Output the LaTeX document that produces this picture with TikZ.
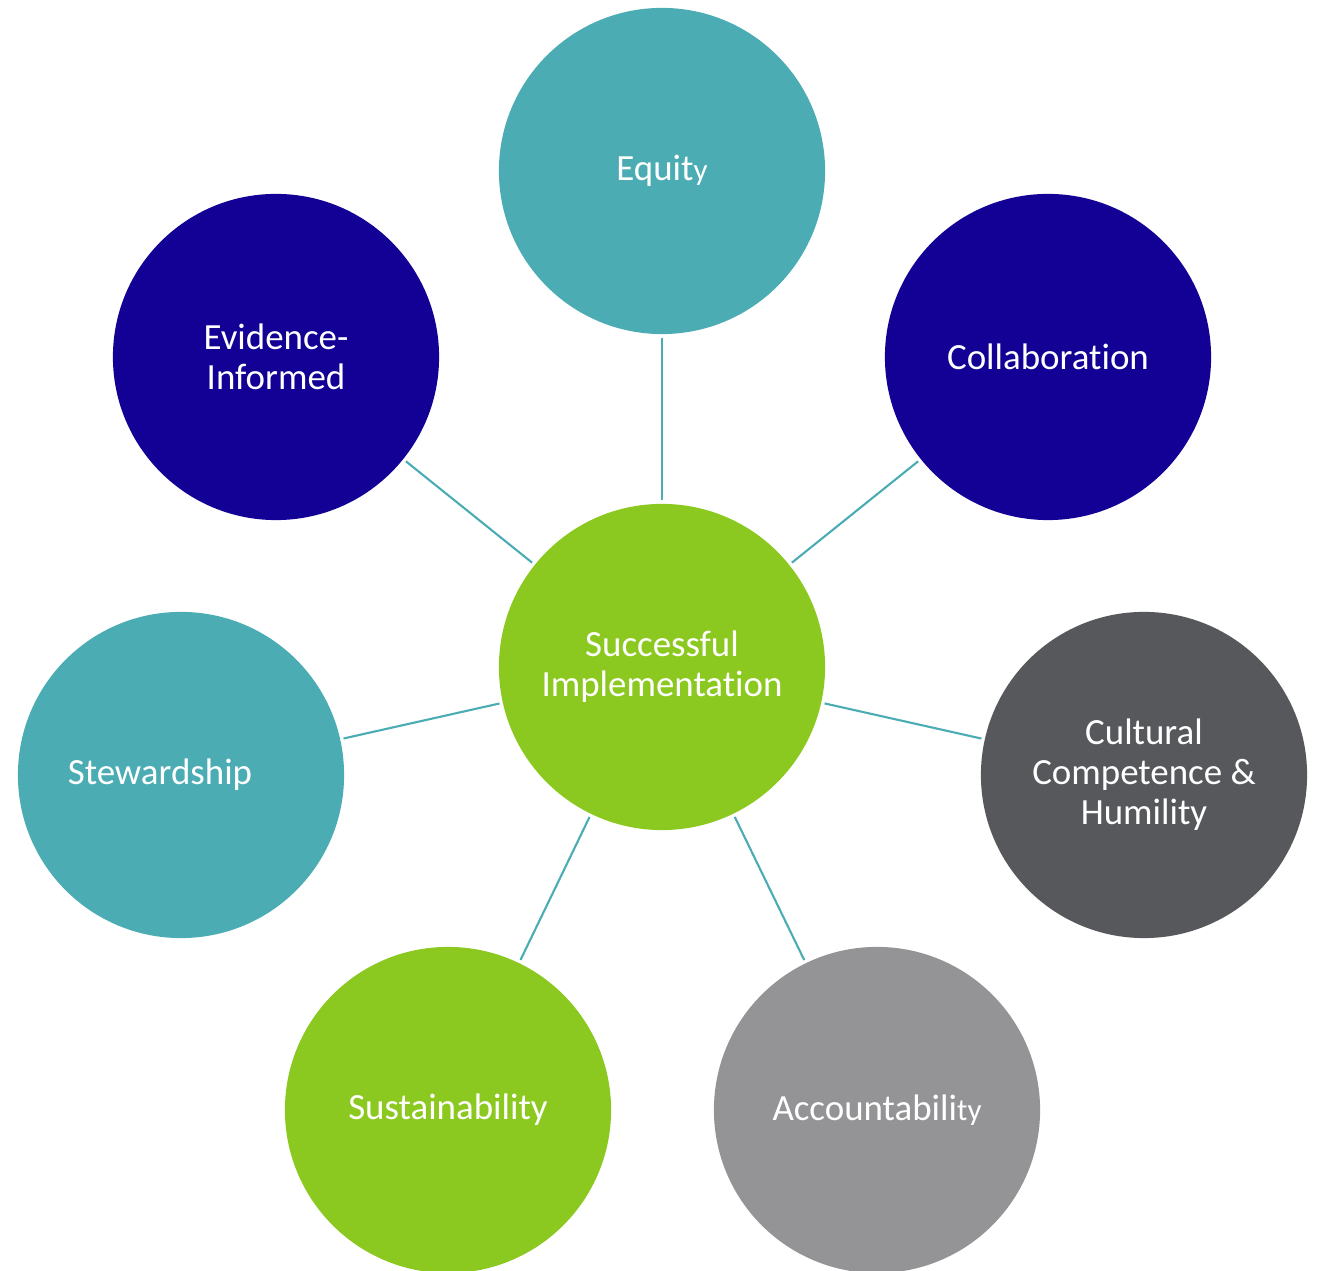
\documentclass[tikz,border=0pt]{standalone}
\usepackage{fontspec}
\setmainfont[Ligatures={CommonOff,ContextualOff,RequiredOff}]{Carlito}
\usetikzlibrary{positioning}

\definecolor{tealc}{RGB}{75,172,180}
\definecolor{navyc}{RGB}{19,0,148}
\definecolor{limec}{RGB}{140,201,32}
\definecolor{darkc}{RGB}{87,88,91}
\definecolor{greyc}{RGB}{148,148,150}

\newcommand{\smallend}[1]{{\fontsize{8.8}{9}\selectfont #1}}

\begin{document}
\begin{tikzpicture}
		[
		x=0.01cm, y=-0.01cm,
		font=\fontsize{10.5}{11.4}\selectfont
		]
		
		% Styles: circles and connectors
		\tikzstyle{big node}=[circle,minimum size=3.26cm,inner sep=0,outer sep=1pt,text=white,align=center];
		\tikzstyle{link}=[draw=tealc,line width=0.6pt];
		
		% Frame of the picture
		\useasboundingbox (0,0) rectangle (1321,1271);
		\clip (0,0) rectangle (1321,1271);
		
		% The centre
		\node(si)[big node,fill=limec] at (662,667) {Successful\\Implementation};
		
		% The values around it
		\node(eq)[big node,fill=tealc] at (662,171) {Equit\smallend{y}};
		\node(co)[big node,fill=navyc] at (1048,357) {Collaboration};
		\node(ev)[big node,fill=navyc] at (276,357) {Evidence-\\Informed};
		\node(cu)[big node,fill=darkc] at (1144,775) {Cultural\\Competence \&\\Humility};
		\node(st)[big node,fill=tealc] at (181,775) {Stewardship\hspace*{0.42cm}};
		\node(su)[big node,fill=limec] at (448,1110) {Sustainability};
		\node(ac)[big node,fill=greyc] at (877,1110) {Accountabili\smallend{ty}};
		
		% Connectors
		\foreach \n in {eq,co,ev,cu,st,su,ac} \draw[link](si)--(\n);
		
\end{tikzpicture}
\end{document}
